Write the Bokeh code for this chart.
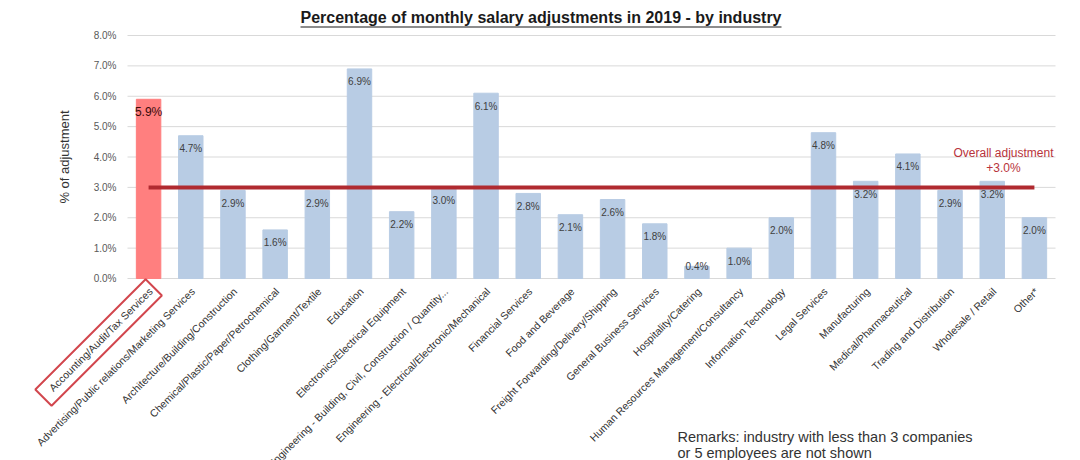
import math
from bokeh.plotting import figure
from bokeh.models import ColumnDataSource, Range1d
from bokeh.core.properties import value
from bokeh.embed import file_html
from bokeh.resources import INLINE

categories = [
    "Accounting/Audit/Tax Services",
    "Advertising/Public relations/Marketing Services",
    "Architecture/Building/Construction",
    "Chemical/Plastic/Paper/Petrochemical",
    "Clothing/Garment/Textile",
    "Education",
    "Electronics/Electrical Equipment",
    "Engineering - Building, Civil, Construction / Quantity...",
    "Engineering - Electrical/Electronic/Mechanical",
    "Financial Services",
    "Food and Beverage",
    "Freight Forwarding/Delivery/Shipping",
    "General Business Services",
    "Hospitality/Catering",
    "Human Resources Management/Consultancy",
    "Information Technology",
    "Legal Services",
    "Manufacturing",
    "Medical/Pharmaceutical",
    "Trading and Distribution",
    "Wholesale / Retail",
    "Other*",
]
adjustment = [5.9, 4.7, 2.9, 1.6, 2.9, 6.9, 2.2, 3.0, 6.1, 2.8, 2.1, 2.6,
              1.8, 0.4, 1.0, 2.0, 4.8, 3.2, 4.1, 2.9, 3.2, 2.0]
overall = 3.0
highlight = "Accounting/Audit/Tax Services"
y_ticks = [0, 1, 2, 3, 4, 5, 6, 7, 8]
y_tick_labels = ["0.0%", "1.0%", "2.0%", "3.0%", "4.0%", "5.0%", "6.0%", "7.0%", "8.0%"]
title_text = "Percentage of monthly salary adjustments in 2019 - by industry"
y_title = "% of adjustment"
remarks = "Remarks: industry with less than 3 companies\nor 5 employees are not shown"

FONT = "Liberation Sans"
BLUE = "#b8cce4"
PINK = "#ff7f7f"
DARKRED = "#b02a30"

# layout: frame covers the whole canvas; data area is x 0..n, y 0..8
W, H = 1080, 460
n = len(categories)
PX_L, PX_R, PX_T, PX_B = 127, 1055, 35, 278
sx = (PX_R - PX_L) / n
sy = (PX_B - PX_T) / 8.0
x_rng = Range1d(-PX_L / sx, n + (W - PX_R) / sx)
y_rng = Range1d(-(H - PX_B) / sy, 8 + PX_T / sy)

def px2x(px):
    return (px - PX_L) / sx

def px2y(py):
    return (PX_B - py) / sy

xs = [i + 0.5 for i in range(n)]
colors = [PINK if c == highlight else BLUE for c in categories]
lab_y = [max(v, 0.82) for v in adjustment]
lab_txt = [f"{v:.1f}%" for v in adjustment]
lab_size = ["12px" if c == highlight else "10px" for c in categories]
lab_col = ["#3a0a0a" if c == highlight else "#404040" for c in categories]

src = ColumnDataSource(dict(x=xs, cat=categories, val=adjustment, color=colors,
                            ly=lab_y, lt=lab_txt, ls=lab_size, lc=lab_col,
                            zero=[0] * n))

p = figure(width=W, height=H, x_range=x_rng, y_range=y_rng,
           output_backend="svg", toolbar_location=None,
           min_border=0, border_fill_color="white")
p.axis.visible = False
p.grid.visible = False
p.outline_line_color = None

# horizontal gridlines
p.segment(x0=[0] * len(y_ticks), x1=[n] * len(y_ticks), y0=y_ticks, y1=y_ticks,
          line_color="#d9d9d9", line_width=1)

# y tick labels
p.text(x=[px2x(116)] * len(y_ticks), y=y_ticks, text=y_tick_labels,
       text_font=value(FONT), text_font_size="10px", text_color="#595959",
       text_align="right", text_baseline="middle")

# y axis title
p.text(x=[px2x(64)], y=[4.0], text=[y_title], angle=math.pi / 2,
       text_font=value(FONT), text_font_size="13px", text_color="#333333",
       text_align="center", text_baseline="middle")

# bars
p.vbar(x="x", top="val", width=0.58, color="color", source=src)

# overall line
p.line(x=[xs[0], xs[-1]], y=[overall, overall], line_color=DARKRED, line_width=4)

# value labels
p.text(x="x", y="ly", text="lt", source=src, text_font=value(FONT),
       text_font_size="ls", text_color="lc", text_align="center",
       text_baseline="middle", y_offset=13)

# overall annotation
p.text(x=[px2x(1003)], y=[px2y(160)], text=[f"Overall adjustment\n+{overall:.1f}%"],
       text_font=value(FONT), text_font_size="12px", text_color="#b8333b",
       text_align="center", text_baseline="middle", text_line_height=1.07)

# category labels
p.text(x="x", y="zero", text="cat", source=src, angle=math.pi / 4,
       text_align="right", text_baseline="middle", x_offset=2, y_offset=11,
       text_font=value(FONT), text_font_size="10.5px", text_color="#333333")

# highlight box around the highlighted category label
hi = categories.index(highlight)
p.rect(x=[xs[hi] - 50 / sx], y=[-64 / sy], width=156, height=23,
       width_units="screen", height_units="screen", angle=math.pi / 4,
       fill_color=None, line_color="#d2474e", line_width=2)

# title with underline
p.text(x=[px2x(540.5)], y=[px2y(17)], text=[title_text],
       text_font=value(FONT), text_font_size="16px", text_font_style="bold",
       text_color="#1a1a1a", text_align="center", text_baseline="middle")
p.segment(x0=[px2x(300)], x1=[px2x(781)], y0=[px2y(26.5)], y1=[px2y(26.5)],
          line_color="#1a1a1a", line_width=1.2)

# remarks
p.text(x=[px2x(677)], y=[px2y(444)], text=[remarks],
       text_font=value(FONT), text_font_size="14.5px", text_color="#333333",
       text_align="left", text_baseline="middle", text_line_height=1.0)

open("out.html", "w").write(file_html(p, INLINE))
